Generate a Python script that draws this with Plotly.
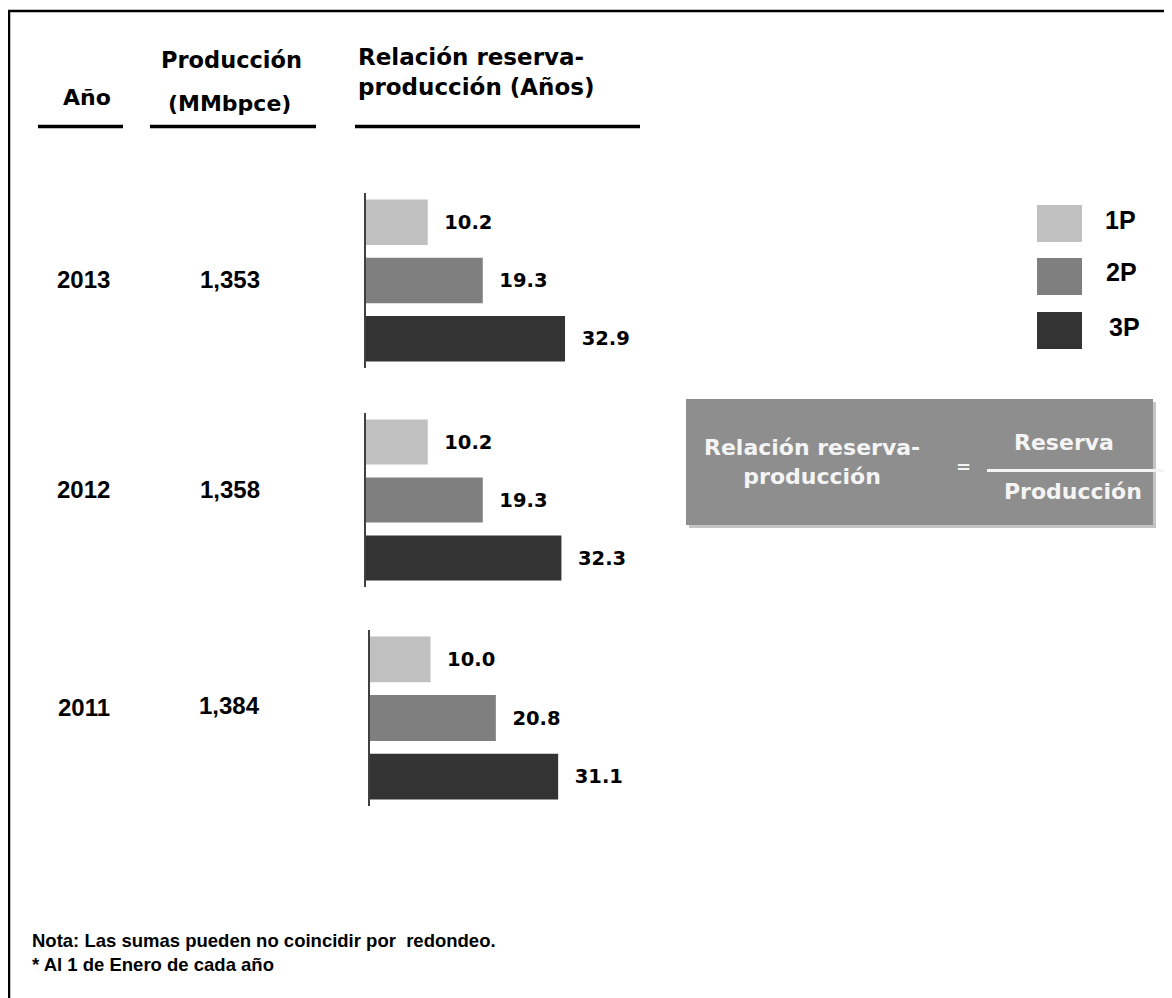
import plotly.graph_objects as go

W, H = 1172, 998
OFF = 8  # page body margin shifts the figure by this many pixels

# ---------------- data ----------------
years = ["2013", "2012", "2011"]
production = ["1,353", "1,358", "1,384"]
categories = ["1P", "2P", "3P"]
ratio_1p = [10.2, 10.2, 10.0]
ratio_2p = [19.3, 19.3, 20.8]
ratio_3p = [32.9, 32.3, 31.1]
cat_colors = ["#c0c0c0", "#7f7f7f", "#333333"]

header_year = "Año"
header_prod = ["Producción", "(MMbpce)"]
header_ratio = ["Relación reserva-", "producción (Años)"]
formula_left = ["Relación reserva-", "producción"]
formula_num = "Reserva"
formula_den = "Producción"
notes = ["Nota: Las sumas pueden no coincidir por  redondeo.", "* Al 1 de Enero de cada año"]

# ---------------- layout geometry (screen pixels) ----------------
group_top = [193, 413, 630]
group_bottom = [368, 587, 806]
axis_x = [366, 366, 370]
px_per_unit = 6.05
x_max = 40
row_center = [279, 490, 707]
prod_center = [279, 489, 705]


def fx(x):
    return (x - OFF) / W


def fy(y):
    return 1 - (y - OFF) / H


TAHOMA = "DejaVu Sans"
ARIAL = "Liberation Sans"

fig = go.Figure()
layout_axes = {}
for i, yr in enumerate(years):
    vals = [ratio_1p[i], ratio_2p[i], ratio_3p[i]]
    sfx = "" if i == 0 else str(i + 1)
    fig.add_trace(go.Bar(
        x=vals, y=categories, orientation="h",
        marker=dict(color=cat_colors, line=dict(width=0)),
        texttemplate="\u00a0\u00a0%{x:.1f}", textposition="outside",
        textfont=dict(family=TAHOMA, size=19.5, color="#000000", weight="bold"),
        cliponaxis=False, showlegend=False, hoverinfo="skip",
        xaxis="x" + sfx, yaxis="y" + sfx,
    ))
    layout_axes["xaxis" + sfx] = dict(
        domain=[fx(axis_x[i]), fx(axis_x[i] + px_per_unit * x_max)],
        range=[0, x_max], visible=False, anchor="y" + sfx,
    )
    layout_axes["yaxis" + sfx] = dict(
        domain=[fy(group_bottom[i]), fy(group_top[i])],
        type="category", categoryorder="array", categoryarray=categories[::-1],
        range=[-0.5, 2.5], showline=True, linecolor="#404040", linewidth=1.5,
        showticklabels=False, ticks="", showgrid=False, zeroline=False,
        anchor="x" + sfx,
    )

shapes = []
annotations = []

# outer frame (top and left edges)
shapes.append(dict(type="line", xref="paper", yref="paper", x0=0, x1=1, y0=fy(11), y1=fy(11),
                   line=dict(color="#000000", width=2.5)))
shapes.append(dict(type="line", xref="paper", yref="paper", x0=fx(9), x1=fx(9), y0=fy(10), y1=0,
                   line=dict(color="#000000", width=2.5)))

# header underlines
for x0, x1 in [(38, 123), (150, 316), (355, 640)]:
    shapes.append(dict(type="line", xref="paper", yref="paper", x0=fx(x0), x1=fx(x1), y0=fy(126.5), y1=fy(126.5),
                       line=dict(color="#000000", width=3.5)))


def ann(text, x, y, size, family=TAHOMA, color="#000000", xanchor="center", align="center"):
    annotations.append(dict(text=text, x=fx(x), y=fy(y), xref="paper", yref="paper", showarrow=False,
                            xanchor=xanchor, yanchor="middle", align=align,
                            font=dict(family=family, size=size, color=color, weight="bold")))


# headers
ann(header_year, 87, 97, 22)
ann(header_prod[0], 231, 60, 22.5)
ann(header_prod[1], 230, 103, 22)
ann("<br>".join(header_ratio), 356, 72, 23, xanchor="left", align="left")

# year and production labels
for i, yr in enumerate(years):
    ann(yr, 84, row_center[i], 24, family=ARIAL)
    ann(production[i], 230, prod_center[i], 24, family=ARIAL)

# legend
leg_top = [205, 258, 312]
leg_label_y = [220, 272, 327]
leg_label_x = [1120, 1121, 1124]
for i, c in enumerate(categories):
    shapes.append(dict(type="rect", xref="paper", yref="paper", x0=fx(1037), x1=fx(1082),
                       y0=fy(leg_top[i] + 37), y1=fy(leg_top[i]),
                       fillcolor=cat_colors[i], line=dict(width=0)))
    ann(c, leg_label_x[i], leg_label_y[i], 25, family=ARIAL)

# formula box with shadow
shapes.append(dict(type="rect", xref="paper", yref="paper", x0=fx(689), x1=fx(1156), y0=fy(528), y1=fy(402),
                   fillcolor="#c4c4c4", line=dict(width=0)))
shapes.append(dict(type="rect", xref="paper", yref="paper", x0=fx(686), x1=fx(1153), y0=fy(525), y1=fy(399),
                   fillcolor="#8e8e8e", line=dict(width=0)))
shapes.append(dict(type="line", xref="paper", yref="paper", x0=fx(987), x1=1, y0=fy(470.5), y1=fy(470.5),
                   line=dict(color="#f4f4f4", width=3)))
WH = "#f4f4f4"
ann("<br>".join(formula_left), 812, 462, 22, color=WH)
ann("=", 963, 466, 18, color=WH)
ann(formula_num, 1064, 442, 22, color=WH)
ann(formula_den, 1073, 491, 22, color=WH)

# notes
ann(notes[0], 30, 940, 18.5, family=ARIAL, xanchor="left")
ann(notes[1], 30, 964, 18.5, family=ARIAL, xanchor="left")

fig.update_layout(
    width=W, height=H,
    margin=dict(l=0, r=0, t=0, b=0),
    paper_bgcolor="#ffffff", plot_bgcolor="rgba(0,0,0,0)",
    bargap=0.22, showlegend=False,
    shapes=shapes, annotations=annotations,
    **layout_axes,
)

fig.write_html("out.html")
